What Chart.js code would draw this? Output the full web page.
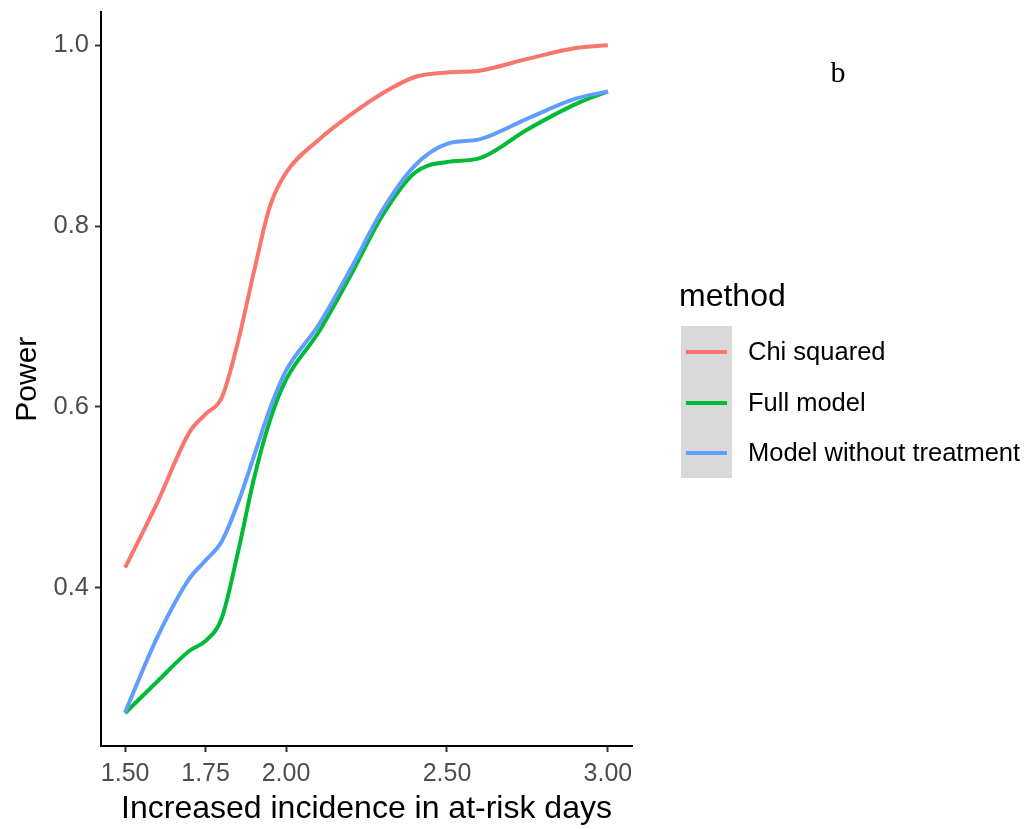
<!DOCTYPE html>
<html>
<head>
<meta charset="utf-8">
<script src="https://cdn.jsdelivr.net/npm/chart.js@4.4.1/dist/chart.umd.min.js"></script>
<style>
  body { margin: 0; background: #fff; }
  #wrap { width: 1031px; height: 829px; position: relative; }
</style>
</head>
<body>
<div id="wrap"><canvas id="powerChart"></canvas></div>
<script>
// values
const incidence = [1.5, 1.6, 1.7, 1.75, 1.8, 1.85, 1.9, 1.95, 2.0, 2.1, 2.2, 2.3, 2.4, 2.5, 2.6, 2.75, 2.9, 3.0];
const chiSquared = [0.422, 0.494, 0.572, 0.592, 0.610, 0.671, 0.749, 0.822, 0.859, 0.895, 0.923, 0.947, 0.965, 0.970, 0.972, 0.985, 0.997, 1.0];
const fullModel = [0.261, 0.296, 0.330, 0.341, 0.366, 0.438, 0.520, 0.585, 0.630, 0.682, 0.745, 0.812, 0.859, 0.871, 0.875, 0.907, 0.935, 0.949];
const noTreatment = [0.262, 0.345, 0.410, 0.430, 0.451, 0.493, 0.545, 0.598, 0.640, 0.690, 0.752, 0.818, 0.867, 0.891, 0.896, 0.919, 0.941, 0.949];
const methods = ['Chi squared', 'Full model', 'Model without treatment'];
const colors = ['#F8766D', '#00BA38', '#619CFF'];
const xTicks = [1.5, 1.75, 2.0, 2.5, 3.0];
const yTicks = [0.4, 0.6, 0.8, 1.0];

const sans = '"Liberation Sans", Arial, sans-serif';

function series(vals) {
  return incidence.map((x, i) => ({ x: x, y: vals[i] }));
}

const allSeries = [chiSquared, fullModel, noTreatment];
const datasets = allSeries.map((vals, i) => ({
  label: methods[i],
  data: series(vals),
  borderColor: colors[i],
  borderWidth: 4,
  pointRadius: 0,
  fill: false,
  cubicInterpolationMode: 'monotone',
  order: 2 - i
}));

const background = {
  id: 'background',
  beforeDraw(chart) {
    const c = chart.ctx;
    c.save();
    c.fillStyle = '#fff';
    c.fillRect(0, 0, chart.width, chart.height);
    c.restore();
  }
};

// ggplot style legend on the right, plus the panel letter
const sideLegend = {
  id: 'sideLegend',
  afterDraw(chart) {
    const c = chart.ctx;
    c.save();
    c.fillStyle = '#000';
    c.textBaseline = 'middle';
    c.textAlign = 'left';
    c.font = '32px ' + sans;
    c.fillText('method', 679, 297);

    c.fillStyle = '#d9d9d9';
    c.fillRect(681, 326, 51, 152);

    const rows = [352, 403, 453];
    chart.data.datasets.forEach((ds, i) => {
      c.strokeStyle = ds.borderColor;
      c.lineWidth = 4;
      c.beginPath();
      c.moveTo(686, rows[i]);
      c.lineTo(727, rows[i]);
      c.stroke();
      c.fillStyle = '#000';
      c.font = '25.5px ' + sans;
      c.fillText(ds.label, 748, rows[i] + 1);
    });

    c.font = '30px "Liberation Serif", "Times New Roman", serif';
    c.textAlign = 'center';
    c.fillText('b', 838, 74);
    c.restore();
  }
};

const ctx = document.getElementById('powerChart').getContext('2d');
const powerChart = new Chart(ctx, {
  type: 'line',
  data: { datasets: datasets },
  options: {
    responsive: true,
    maintainAspectRatio: false,
    animation: false,
    layout: { padding: { left: 0, top: 12, right: 399, bottom: 0 } },
    plugins: {
      legend: { display: false },
      tooltip: { enabled: false }
    },
    scales: {
      x: {
        type: 'linear',
        min: 1.425,
        max: 3.075,
        afterFit: s => { s.height = 83; },
        afterBuildTicks: s => { s.ticks = xTicks.map(v => ({ value: v })); },
        grid: { drawOnChartArea: false, tickLength: 6, tickColor: '#333', tickWidth: 2 },
        border: { display: true, color: '#000', width: 2 },
        ticks: {
          autoSkip: false,
          maxRotation: 0,
          padding: 7,
          color: '#4d4d4d',
          font: { family: sans, size: 25 },
          callback: v => v.toFixed(2)
        },
        title: {
          display: true,
          text: 'Increased incidence in at-risk days',
          color: '#000',
          font: { family: sans, size: 32 },
          padding: { top: 0, bottom: 1 }
        }
      },
      y: {
        min: 0.2246,
        max: 1.0365,
        afterFit: s => { s.width = 101; },
        afterBuildTicks: s => { s.ticks = yTicks.map(v => ({ value: v })); },
        grid: { drawOnChartArea: false, tickLength: 6, tickColor: '#333', tickWidth: 2 },
        border: { display: true, color: '#000', width: 2 },
        ticks: {
          padding: 6,
          color: '#4d4d4d',
          font: { family: sans, size: 25.5, lineHeight: 0.5 },
          callback: v => v.toFixed(1)
        },
        title: {
          display: true,
          text: 'Power',
          color: '#000',
          font: { family: sans, size: 30 },
          padding: { top: 10, bottom: 0 }
        }
      }
    }
  },
  plugins: [background, sideLegend]
});
</script>
</body>
</html>
